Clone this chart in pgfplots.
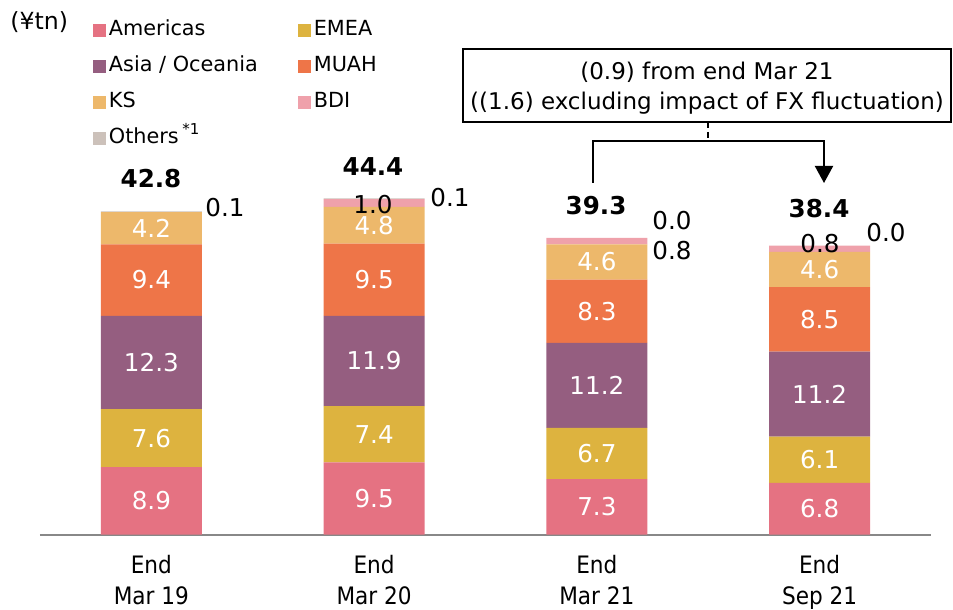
\documentclass[border=0pt]{standalone}
\usepackage{fontspec}
\setmainfont{DejaVu Sans}
\newfontfamily\condfont{DejaVu Sans Condensed}
\usepackage{pgfplots}
\usepackage{pgfplotstable}
\pgfplotsset{compat=1.18}
\usetikzlibrary{arrows.meta}

\definecolor{cAm}{HTML}{E57282}
\definecolor{cEM}{HTML}{DDB33F}
\definecolor{cAS}{HTML}{955E80}
\definecolor{cMU}{HTML}{EE7548}
\definecolor{cKS}{HTML}{EDB86B}
\definecolor{cBD}{HTML}{EFA1AB}
\definecolor{cOT}{HTML}{CCC1BA}
\definecolor{axisgray}{HTML}{888888}

\pgfplotstableread{
x am amL em emL as asL mu muL ks ksL bd ot
0 8.94 8.9 7.64 7.6 12.34 12.3 9.44 9.4 4.24 4.2 0.00 0.10
1 9.54 9.5 7.44 7.4 11.94 11.9 9.54 9.5 4.84 4.8 1.04 0.10
2 7.35 7.3 6.75 6.7 11.25 11.2 8.35 8.3 4.65 4.6 0.85 0.00
3 6.83 6.8 6.13 6.1 11.23 11.2 8.53 8.5 4.63 4.6 0.83 0.00
}\datatable

\pgfplotsset{seglabel/.style={
  nodes near coords={\pgfplotspointmeta},
  point meta=explicit symbolic,
  every node near coord/.append style={anchor=center,
     text=white, font=\fontsize{12.3}{14}\selectfont}}}

\begin{document}
\begin{tikzpicture}
\begin{axis}[
  scale only axis, width=445.5pt, height=189.25pt,
  xmin=-0.5, xmax=3.5, ymin=0, ymax=50,
  ybar stacked, bar width=50.5pt,
  axis y line=none, axis x line*=bottom,
  x axis line style={-, color=axisgray, line width=1pt},
  xtick={0,1,2,3},
  xticklabels={{End\\Mar 19},{End\\Mar 20},{End\\Mar 21},{End\\Sep 21}},
  major tick length=0pt, xtick style={draw=none},
  xticklabel style={align=center, font=\condfont\fontsize{12}{15.5}\selectfont, inner sep=0pt, yshift=-10.3pt},
  clip=false,
  legend columns=2,
  legend cell align=left,
  legend image code/.code={\fill[#1] (0pt,-3.25pt) rectangle (6.5pt,3.25pt);},
  legend style={draw=none, fill=none, at={(rel axis cs:0.0528,1.378)}, anchor=north west,
     font=\fontsize{10.4}{12}\selectfont,
     nodes={text height=7.8pt, text depth=2.2pt, inner sep=1.25pt},
     row sep=5.5pt,
     /tikz/every even column/.append style={column sep=19pt}},
]
\addplot[fill=cAm, draw=none, seglabel] table[x=x, y=am, meta=amL] {\datatable};
\addplot[fill=cEM, draw=none, seglabel] table[x=x, y=em, meta=emL] {\datatable};
\addplot[fill=cAS, draw=none, seglabel] table[x=x, y=as, meta=asL] {\datatable};
\addplot[fill=cMU, draw=none, seglabel] table[x=x, y=mu, meta=muL] {\datatable};
\addplot[fill=cKS, draw=none, seglabel] table[x=x, y=ks, meta=ksL] {\datatable};
\addplot[fill=cBD, draw=none] table[x=x, y=bd] {\datatable};
\addplot[fill=cOT, draw=none] table[x=x, y=ot] {\datatable};
\legend{Americas, EMEA, Asia / Oceania, MUAH, KS, BDI, Others\,\raisebox{4.5pt}{\fontsize{7.5}{8}\selectfont *1}}
\end{axis}

\begin{scope}[x=0.5pt, y=-0.5pt, shift={(-20pt,267.35pt)}]
  \node[anchor=west, inner sep=0pt, font=\fontsize{11.8}{12}\selectfont] at (10,22) {(¥tn)};
  % totals
  \begin{scope}[every node/.style={font=\fontsize{12.3}{14}\selectfont\bfseries}]
    \node at (151,179) {42.8};
    \node at (373,167) {44.4};
    \node at (596,206) {39.3};
    \node at (819,209) {38.4};
  \end{scope}
  % small labels
  \begin{scope}[every node/.style={font=\fontsize{12.3}{14}\selectfont}]
    \node at (225,208) {0.1};
    \node at (373,205) {1.0};
    \node at (450,198) {0.1};
    \node at (672,221) {0.0};
    \node at (672,251) {0.8};
    \node at (820,244) {0.8};
    \node at (886,233) {0.0};
  \end{scope}
  % annotation box
  \draw[line width=0.75pt] (463,49) rectangle (951,122);
  \node[align=center, font=\fontsize{11.5}{15}\selectfont] at (707,88)
     {(0.9) from end Mar 21\\((1.6) excluding impact of FX fluctuation)};
  \draw[line width=1pt, dash pattern=on 3pt off 2pt] (708,122) -- (708,141);
  \draw[line width=1pt, -{Triangle[length=8.5pt, width=9pt]}] (593,183) -- (593,141) -- (824,141) -- (824,183);
  \pgfresetboundingbox
  \path[use as bounding box] (0,0) rectangle (953,610);
\end{scope}
\end{tikzpicture}
\end{document}
